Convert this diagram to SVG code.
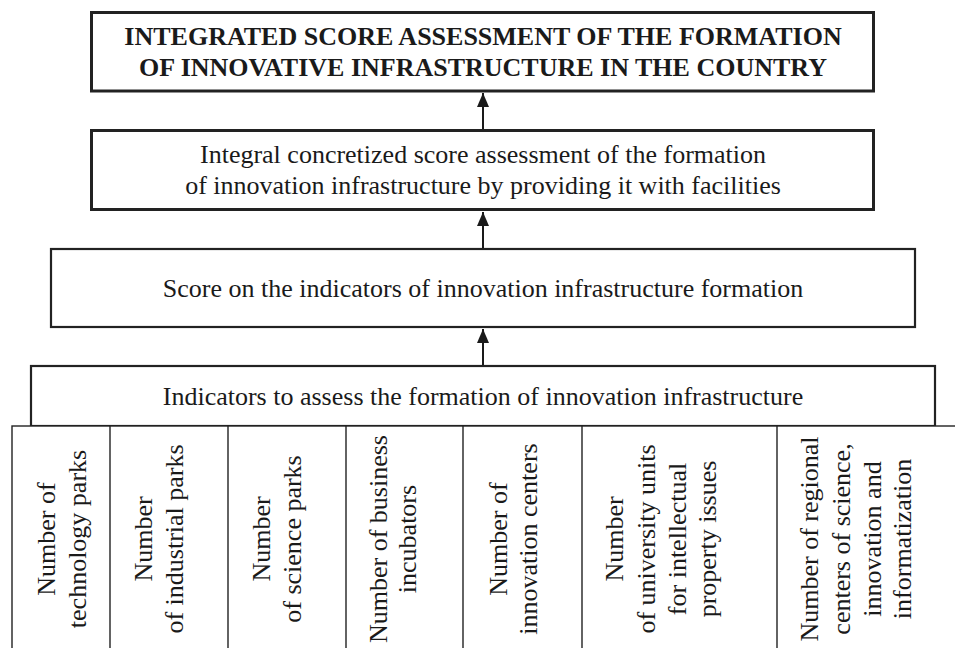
<svg xmlns="http://www.w3.org/2000/svg" width="955" height="648" viewBox="0 0 955 648">
<defs>
<marker id="ah" viewBox="0 0 14 12" refX="14" refY="6" markerWidth="14" markerHeight="12" markerUnits="userSpaceOnUse" orient="auto">
<path d="M0,0 L14,6 L0,12 Z" fill="#1a1a1a"/>
</marker>
<style>
text{font-family:"Liberation Serif","Times New Roman",serif;font-size:26px;fill:#1a1a1a;text-anchor:middle}
.b{font-weight:bold}
.thick{fill:#fff;stroke:#222;stroke-width:3}
.mid{fill:#fff;stroke:#222;stroke-width:2.2}
.col{fill:#fff;stroke:#222;stroke-width:1.4}
.conn{stroke:#1a1a1a;stroke-width:2;fill:none}
</style>
</defs>
<rect width="955" height="648" fill="#fff"/>
<g id="node-top">
<rect class="thick" x="91.5" y="12.5" width="782" height="78.5"/>
<text class="b" x="483" y="45">INTEGRATED SCORE ASSESSMENT OF THE FORMATION</text>
<text class="b" x="483" y="76">OF INNOVATIVE INFRASTRUCTURE IN THE COUNTRY</text>
</g>
<g id="node-integral">
<rect class="thick" x="91.5" y="130.5" width="782" height="79"/>
<text x="483" y="163">Integral concretized score assessment of the formation</text>
<text x="483" y="194">of innovation infrastructure by providing it with facilities</text>
</g>
<g id="node-score">
<rect class="mid" x="51" y="249" width="864" height="78"/>
<text x="483" y="297">Score on the indicators of innovation infrastructure formation</text>
</g>
<g id="node-indicators">
<rect class="mid" x="31" y="366" width="904" height="60"/>
<text x="483" y="405">Indicators to assess the formation of innovation infrastructure</text>
</g>
<g id="node-columns">
<rect class="col" x="12" y="426" width="950" height="230"/>
<line class="col" x1="110" y1="426" x2="110" y2="650"/>
<line class="col" x1="228" y1="426" x2="228" y2="650"/>
<line class="col" x1="346" y1="426" x2="346" y2="650"/>
<line class="col" x1="463" y1="426" x2="463" y2="650"/>
<line class="col" x1="582" y1="426" x2="582" y2="650"/>
<line class="col" x1="777" y1="426" x2="777" y2="650"/>
</g>
<g id="node-c1"><text transform="translate(0,539) rotate(-90)"><tspan x="0" y="55">Number of</tspan><tspan x="0" y="86">technology parks</tspan></text></g>
<g id="node-c2"><text transform="translate(0,539) rotate(-90)"><tspan x="0" y="152">Number</tspan><tspan x="0" y="183">of industrial parks</tspan></text></g>
<g id="node-c3"><text transform="translate(0,539) rotate(-90)"><tspan x="0" y="270">Number</tspan><tspan x="0" y="301">of science parks</tspan></text></g>
<g id="node-c4"><text transform="translate(0,539) rotate(-90)"><tspan x="0" y="387">Number of business</tspan><tspan x="0" y="416">incubators</tspan></text></g>
<g id="node-c5"><text transform="translate(0,539) rotate(-90)"><tspan x="0" y="507">Number of</tspan><tspan x="0" y="537">innovation centers</tspan></text></g>
<g id="node-c6"><text transform="translate(0,539) rotate(-90)"><tspan x="0" y="623">Number</tspan><tspan x="0" y="655">of university units</tspan><tspan x="0" y="686">for intellectual</tspan><tspan x="0" y="716">property issues</tspan></text></g>
<g id="node-c7"><text transform="translate(0,539) rotate(-90)"><tspan x="0" y="818">Number of regional</tspan><tspan x="0" y="850">centers of science,</tspan><tspan x="0" y="881">innovation and</tspan><tspan x="0" y="911">informatization</tspan></text></g>
<g id="connectors">
<line class="conn" x1="483" y1="129" x2="483" y2="93" marker-end="url(#ah)"/>
<line class="conn" x1="483" y1="248" x2="483" y2="212" marker-end="url(#ah)"/>
<line class="conn" x1="483" y1="365" x2="483" y2="329" marker-end="url(#ah)"/>
</g>
</svg>
